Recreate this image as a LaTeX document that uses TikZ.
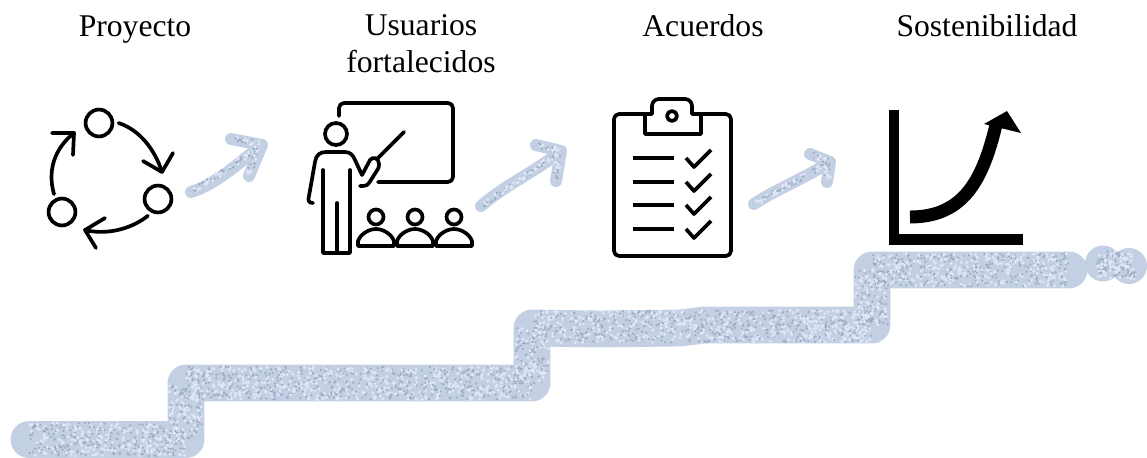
\documentclass[tikz,border=0pt]{standalone}
\usepackage{fontspec}
\setmainfont{Liberation Serif}
\usetikzlibrary{arrows.meta}
\definecolor{chalk}{HTML}{C3CFE3}
\definecolor{chalkdark}{HTML}{9DABC4}
\definecolor{chalklight}{HTML}{DFE7F6}
\tikzset{
	title/.style={font=\fontsize{18}{21}\selectfont, align=center, text=black, anchor=base},
	ink/.style={draw=black, line width=3.7*0.5669pt, line cap=round, line join=round},
	cycleball/.style={circle, draw=black, line width=3.7*0.5669pt, minimum size=27*0.5669pt, inner sep=0pt, outer sep=3.5pt},
	stair/.style={draw=chalk, line width=37*0.5669pt, line cap=round, line join=round},
	chalkarrow/.style={draw=chalk, line width=12*0.5669pt, line cap=round, line join=round},
}
% one speckled stretch of chalk, from (#1,#2) to (#3,#4), #5 specks, half width #6
\newcommand{\chalkgrain}[6]{
	\foreach \i in {1,...,#5}{
		\pgfmathsetmacro{\t}{rnd}
		\pgfmathsetmacro{\s}{rnd}
		\fill[chalklight] ({#1+(#3-#1)*\t+#6*(\s-.5)*2*(abs(#2-#4)>abs(#1-#3))},{#2+(#4-#2)*\t+#6*(\s-.5)*2*(abs(#2-#4)<=abs(#1-#3))}) circle (1.7);
		\pgfmathsetmacro{\t}{rnd}
		\pgfmathsetmacro{\s}{rnd}
		\fill[chalkdark] ({#1+(#3-#1)*\t+#6*(\s-.5)*2*(abs(#2-#4)>abs(#1-#3))},{#2+(#4-#2)*\t+#6*(\s-.5)*2*(abs(#2-#4)<=abs(#1-#3))}) circle (1.2);
	}
}
\begin{document}
\begin{tikzpicture}[x=0.02cm, y=-0.02cm]
	\useasboundingbox (0,0) rectangle (1147,457);
	\pgfmathsetseed{4711}

	% stairs
	\draw[stair] (29,439.5) -- (186,439.5) -- (186,383) -- (532,383) -- (532,328) -- (600,329) -- (680,328) -- (705,325) -- (872,325) -- (872,270) -- (1069,270);
	\fill[chalk] (1103,263.5) circle (18);
	\fill[chalk] (1129,266) circle (18);
	\chalkgrain{29}{439.5}{186}{439.5}{230}{16.5}
	\chalkgrain{186}{439}{186}{383}{70}{16.5}
	\chalkgrain{186}{383}{532}{383}{480}{16.5}
	\chalkgrain{532}{383}{532}{328}{70}{16.5}
	\chalkgrain{532}{327}{872}{326}{480}{16}
	\chalkgrain{872}{325}{872}{270}{70}{16.5}
	\chalkgrain{872}{270}{1069}{270}{280}{16.5}
	\chalkgrain{1097}{264}{1135}{266}{70}{13}

	% titles
	\node[title] (proyecto) at (135,36) {Proyecto};
	\node[title] (usuarios) at (421,72.5) {Usuarios\\fortalecidos};
	\node[title] (acuerdos) at (703,36) {Acuerdos};
	\node[title] (sostenibilidad) at (987,36) {Sostenibilidad};

	% cycle icon
	\node[cycleball] (ballTop) at (99,123) {};
	\node[cycleball] (ballRight) at (158,199) {};
	\node[cycleball] (ballLeft) at (62,212) {};
	\coordinate (tipRight) at (162,172);
	\coordinate (tipLeft) at (85,230);
	\coordinate (tipTop) at (74,133);
	\draw[ink] (ballTop.east) .. controls (140,130) and (155,150) .. (tipRight);
	\draw[ink] (143,161) -- (tipRight) -- (173,153);
	\draw[ink] (ballRight.-121) .. controls (130,230) and (105,235) .. (tipLeft);
	\draw[ink] (105,218) -- (tipLeft) -- (96,248);
	\draw[ink] (ballLeft.114) .. controls (47,170) and (55,148) .. (tipTop);
	\draw[ink] (52,133) -- (tipTop) -- (73,155);

	% chalk arrows between the icons
	\draw[chalkarrow] (191,192) .. controls (215,185) and (240,162) .. (262,145);
	\draw[chalkarrow] (231,139) -- (262,145) -- (249,176);
	\chalkgrain{193}{191}{258}{148}{35}{3}
	\chalkgrain{233}{139}{260}{144}{10}{3}
	\chalkgrain{258}{148}{249}{174}{10}{3}
	\draw[chalkarrow] (481,206) .. controls (505,185) and (535,172) .. (561,151);
	\draw[chalkarrow] (536,145) -- (561,151) -- (556,181);
	\chalkgrain{483}{205}{558}{153}{40}{3}
	\chalkgrain{538}{145}{559}{150}{10}{3}
	\chalkgrain{559}{153}{556}{179}{10}{3}
	\draw[chalkarrow] (754,204) .. controls (775,190) and (805,178) .. (830,162);
	\draw[chalkarrow] (810,154) -- (830,162) -- (827,182);
	\chalkgrain{756}{203}{827}{164}{35}{3}
	\chalkgrain{812}{155}{828}{161}{8}{3}
	\chalkgrain{829}{164}{827}{180}{8}{3}

	% teacher icon
	\draw[ink] (339,116) -- (339,108) to[out=90, in=180] (344,103) -- (448,103) to[out=0, in=90] (453,108) -- (453,177) to[out=-90, in=0] (448,182) -- (378,182);
	\draw[ink] (336,134) circle (11);
	\draw[ink] (404,132) -- (378,158);
	\draw[ink] (313,203) .. controls (308,203) and (308,200) .. (309,196) -- (315,162) .. controls (316,155) and (320,152) .. (326,152) -- (345,152) .. controls (350,152) and (353,155) .. (355,160) -- (362,175) -- (370,160) .. controls (373,156) and (379,158) .. (379,164) .. controls (379,168) and (378,169) .. (376,172) -- (369,183) .. controls (367,186) and (364,186) .. (360,186);
	\draw[ink] (323,170) -- (323,253) -- (350,253) -- (350,170);
	\draw[ink] (337,203) -- (337,253);
	\foreach \px in {376,415,454}{
		\draw[ink] (\px,217) circle (7.5);
		\draw[ink] (\px-18,246) -- (\px-18,241) .. controls (\px-15,233) and (\px-6,229) .. (\px,229) .. controls (\px+6,229) and (\px+15,233) .. (\px+18,241) -- (\px+18,246) -- cycle;
	}

	% clipboard icon
	\draw[ink] (645,114) -- (619,114) to[out=180, in=90] (614,119) -- (614,251) to[out=-90, in=180] (619,256) -- (726,256) to[out=0, in=-90] (731,251) -- (731,119) to[out=90, in=0] (726,114) -- (701,114);
	\draw[ink] (645,114) -- (645,134) -- (701,134) -- (701,114) -- (692,114) -- (692,106) to[out=90, in=0] (685,99) -- (659,99) to[out=180, in=90] (652,106) -- (652,114) -- cycle;
	\draw[ink] (672,116) circle (5);
	\foreach \py in {158,182,205,229}{
		\draw[ink, line cap=butt] (633,\py) -- (674,\py);
		\draw[ink, line cap=butt] (686,\py) -- (694,\py+9) -- (711,\py-8);
	}

	% growth icon
	\draw[line width=11*0.5669pt, miter limit=10] (894,110) -- (894,239.5) -- (1023,239.5);
	\draw[line width=13*0.5669pt] (910,217) .. controls (965,217) and (983,178) .. (996,125);
	\fill (1007,111) -- (1021,133) -- (984,124) -- cycle;
\end{tikzpicture}
\end{document}
